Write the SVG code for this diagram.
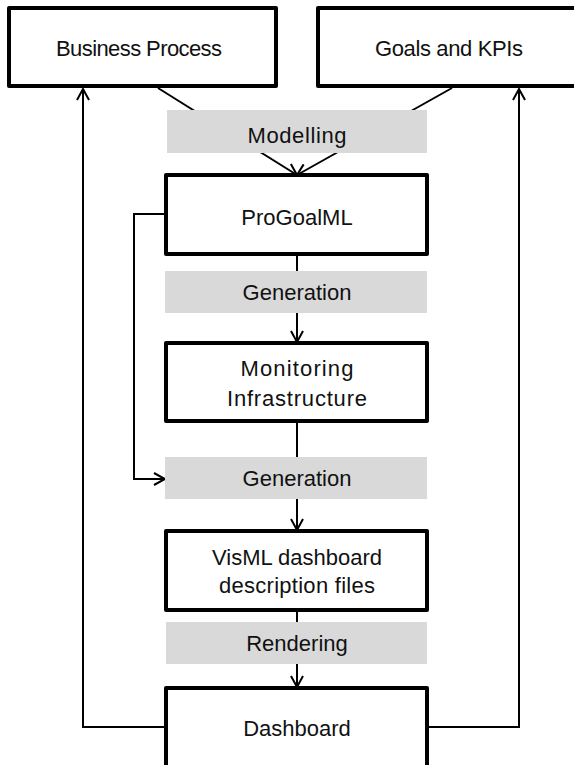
<svg xmlns="http://www.w3.org/2000/svg" width="574" height="765" viewBox="0 0 574 765">
<style>
.node{fill:#fff;stroke:#000;stroke-width:4;stroke-linejoin:round}
.lbl{fill:#d9d9d9;stroke:none}
.edge{fill:none;stroke:#000;stroke-width:2}
text{font-family:"Liberation Sans",Arial,sans-serif;font-size:22px;fill:#111;text-anchor:middle}
</style>
<defs>
<marker id="arr" markerUnits="userSpaceOnUse" markerWidth="14" markerHeight="14" viewBox="0 0 14 14" refX="12" refY="7" orient="auto">
<path d="M1,1 L12,7 L1,13" fill="none" stroke="#000" stroke-width="2"/>
</marker>
</defs>
<rect width="574" height="765" fill="#fff"/>
<g id="connectors">
<line class="edge" x1="158" y1="88" x2="297" y2="175" marker-end="url(#arr)"/>
<line class="edge" x1="452" y1="88" x2="297" y2="175" marker-end="url(#arr)"/>
<line class="edge" x1="297" y1="254" x2="297" y2="342" marker-end="url(#arr)"/>
<polyline class="edge" points="166,214 134,214 134,479 165,479" marker-end="url(#arr)"/>
<line class="edge" x1="297" y1="421" x2="297" y2="530" marker-end="url(#arr)"/>
<line class="edge" x1="297" y1="610" x2="297" y2="687" marker-end="url(#arr)"/>
<polyline class="edge" points="166,727 83,727 83,89" marker-end="url(#arr)"/>
<polyline class="edge" points="427,727 519,727 519,89" marker-end="url(#arr)"/>
<g id="label-modelling"><rect class="lbl" x="167" y="110" width="260" height="43"/><text x="297" y="143" textLength="99" lengthAdjust="spacing">Modelling</text></g>
<g id="label-generation1"><rect class="lbl" x="165" y="271" width="262" height="42"/><text x="297" y="300">Generation</text></g>
<g id="label-generation2"><rect class="lbl" x="165" y="457" width="262" height="42"/><text x="297" y="486">Generation</text></g>
<g id="label-rendering"><rect class="lbl" x="166" y="622" width="261" height="42"/><text x="297" y="651">Rendering</text></g>
</g>
<g id="business-process"><rect class="node" x="9" y="8" width="267" height="78"/><text x="139" y="56" textLength="166" lengthAdjust="spacing">Business Process</text></g>
<g id="goals-kpis"><rect class="node" x="318" y="8" width="270" height="78"/><text x="449" y="56" textLength="148" lengthAdjust="spacing">Goals and KPIs</text></g>
<g id="progoalml"><rect class="node" x="166" y="175" width="261" height="79"/><text x="297" y="225">ProGoalML</text></g>
<g id="monitoring"><rect class="node" x="166" y="343" width="261" height="78"/><text x="297" y="376" textLength="113" lengthAdjust="spacing">Monitoring</text><text x="297" y="406" textLength="140" lengthAdjust="spacing">Infrastructure</text></g>
<g id="visml"><rect class="node" x="166" y="531" width="261" height="79"/><text x="297" y="565">VisML dashboard</text><text x="297" y="593" textLength="156" lengthAdjust="spacing">description files</text></g>
<g id="dashboard"><rect class="node" x="166" y="688" width="261" height="85"/><text x="297" y="736">Dashboard</text></g>
</svg>
